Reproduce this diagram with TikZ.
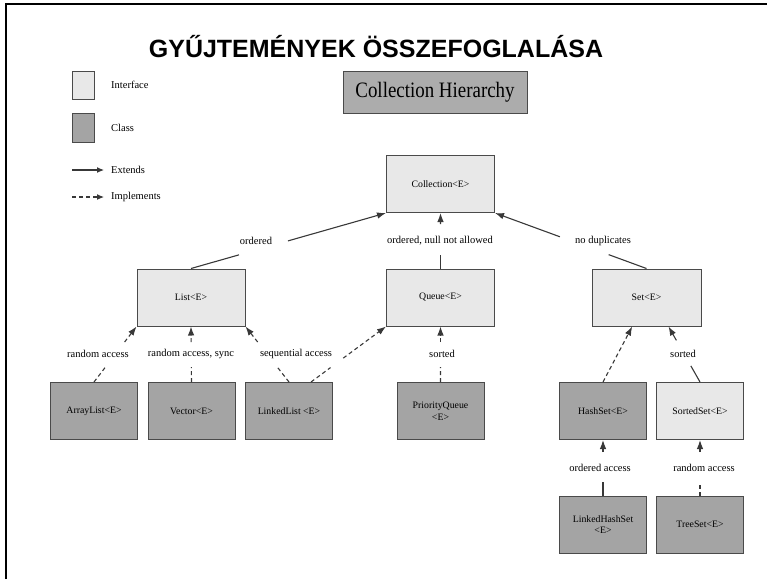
\documentclass[tikz,border=0pt]{standalone}
\usepackage{graphicx}
\usepackage{fontspec}
\setmainfont{Liberation Serif}
\newfontfamily\titlefont{Liberation Sans}
\usetikzlibrary{arrows.meta,calc}
\definecolor{ifc}{HTML}{E8E8E8}
\definecolor{clc}{HTML}{A4A4A4}
\definecolor{hic}{HTML}{ACACAC}
\definecolor{edge}{HTML}{383838}
\definecolor{bord}{HTML}{4A4A4A}
\begin{document}
\begin{tikzpicture}[x=1pt,y=-1pt,
  box/.style={draw=bord, line width=1pt, minimum width=87pt, minimum height=57pt, inner sep=0pt, font=\fontsize{9.8}{11.8}\selectfont, align=center},
  bigbox/.style={box, minimum width=108pt},
  iface/.style={fill=ifc},
  cls/.style={fill=clc},
  lbl/.style={font=\fontsize{10.5}{12}\selectfont, inner sep=0pt},
  conn/.style={draw=edge, line width=1.1pt},
  ext/.style={conn, -{Latex[length=9pt,width=6.5pt]}},
  impln/.style={conn, dash pattern=on 4pt off 3pt},
  impl/.style={impln, -{Latex[length=9pt,width=6.5pt]}},
  legarr/.style={-{Latex[length=7pt,width=6pt]}}]
\useasboundingbox (0,0) rectangle (767,579);
\draw[line width=2pt, black] (6,579) -- (6,4) -- (767,4);

% title
\node[anchor=base, inner sep=0pt, font=\titlefont\bfseries\fontsize{25}{30}\selectfont] (title) at (376,57) {GYŰJTEMÉNYEK ÖSSZEFOGLALÁSA};

% legend
\node[box, iface, minimum width=22pt, minimum height=28pt] (legi) at (83,85) {};
\node[box, cls, minimum width=22pt, minimum height=29pt] (legc) at (83,127.5) {};
\node[lbl, anchor=west] (legit) at (111,85) {Interface};
\node[lbl, anchor=west] (legct) at (111,128) {Class};
\node[lbl, anchor=west] (legext) at (111,170) {Extends};
\node[lbl, anchor=west] (legimp) at (111,197) {Implements};
\coordinate (e1) at (72,170);
\coordinate (e2) at (104,170);
\coordinate (i1) at (72,197);
\coordinate (i2) at (104,197);
\draw[conn, legarr] (e1) -- (e2);
\draw[impln, legarr] (i1) -- (i2);

% hierarchy heading
\node[draw=bord, line width=1pt, fill=hic, minimum width=184pt, minimum height=42pt, inner sep=0pt] (hier) at (435,92) {\fontsize{22}{24}\selectfont\scalebox{0.86}[1]{Collection Hierarchy}};

% boxes
\node[bigbox, iface] (coll) at (440.5,184) {Collection<E>};
\node[bigbox, iface] (list) at (191,297.5) {List<E>};
\node[bigbox, iface] (queue) at (440.5,297.5) {Queue<E>};
\node[bigbox, iface, minimum width=109pt] (set) at (646.5,297.5) {Set<E>};
\node[box, cls] (arraylist) at (94,411) {ArrayList<E>};
\node[box, cls] (vector) at (191.5,411) {Vector<E>};
\node[box, cls] (linkedlist) at (289,411) {LinkedList <E>};
\node[box, cls] (pq) at (440.5,411) {PriorityQueue\\<E>};
\node[box, cls] (hashset) at (603,411) {HashSet<E>};
\node[box, iface] (sortedset) at (700,411) {SortedSet<E>};
\node[box, cls] (lhs) at (603,524.5) {LinkedHashSet\\<E>};
\node[box, cls] (treeset) at (700,524.5) {TreeSet<E>};

% level 1 connectors
\draw[conn] (list.north) -- ($(list.north)!0.246!(coll.south west)$);
\draw[ext] ($(list.north)!0.497!(coll.south west)$) -- (coll.south west);
\node[lbl] (lordered) at (256,241) {ordered};

\draw[conn] (queue.north) -- ($(queue.north)!0.246!(coll.south)$);
\draw[ext] ($(queue.north)!0.80!(coll.south)$) -- (coll.south);
\node[lbl] (lnull) at (440,241) {ordered, null not allowed};

\draw[conn] (set.north) -- ($(set.north)!0.25!(coll.south east)$);
\draw[ext] ($(set.north)!0.572!(coll.south east)$) -- (coll.south east);
\node[lbl] (ldup) at (603,241) {no duplicates};

% level 2 connectors
\draw[impln] (arraylist.north) -- ($(arraylist.north)!0.27!(list.south west)$);
\draw[impl] ($(arraylist.north)!0.72!(list.south west)$) -- (list.south west);
\node[lbl] (lra1) at (98,354) {random access};

\draw[impln] (vector.north) -- ($(vector.north)!0.27!(list.south)$);
\draw[impl] ($(vector.north)!0.72!(list.south)$) -- (list.south);
\node[lbl] (lras) at (191,354) {random access, sync};

\draw[impln] (linkedlist.north) -- ($(linkedlist.north)!0.27!(list.south east)$);
\draw[impl] ($(linkedlist.north)!0.72!(list.south east)$) -- (list.south east);
\node[lbl] (lseq) at (296,354) {sequential access};

\coordinate (llq) at ($(linkedlist.north)!0.5!(linkedlist.north east)$);
\draw[impln] (llq) -- ($(llq)!0.26!(queue.south west)$);
\draw[impl] ($(llq)!0.43!(queue.south west)$) -- (queue.south west);

\draw[impln] (pq.north) -- ($(pq.north)!0.27!(queue.south)$);
\draw[impl] ($(pq.north)!0.72!(queue.south)$) -- (queue.south);
\node[lbl] (lsorted1) at (442,354) {sorted};

\coordinate (sh) at ($(set.south west)!0.37!(set.south east)$);
\draw[impl] (hashset.north) -- (sh);

\coordinate (ss) at ($(set.south west)!0.70!(set.south east)$);
\draw[conn] (sortedset.north) -- ($(sortedset.north)!0.29!(ss)$);
\draw[ext] ($(sortedset.north)!0.75!(ss)$) -- (ss);
\node[lbl] (lsorted2) at (683,354) {sorted};

% level 3 connectors
\draw[conn] (lhs.north) -- ($(lhs.north)!0.25!(hashset.south)$);
\draw[ext] ($(lhs.north)!0.78!(hashset.south)$) -- (hashset.south);
\node[lbl] (lordacc) at (600,468) {ordered access};

\draw[impln] (treeset.north) -- ($(treeset.north)!0.25!(sortedset.south)$);
\draw[impl] ($(treeset.north)!0.78!(sortedset.south)$) -- (sortedset.south);
\node[lbl] (lra2) at (704,468) {random access};
\end{tikzpicture}
\end{document}
